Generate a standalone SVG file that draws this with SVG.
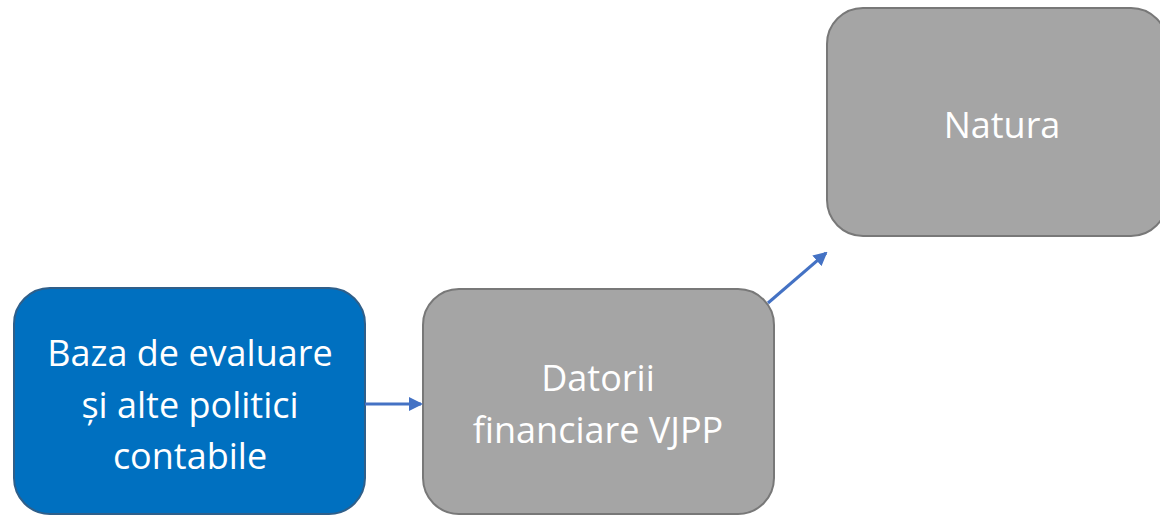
<svg xmlns="http://www.w3.org/2000/svg" width="1160" height="515" viewBox="0 0 1160 515">
<style>
.t{font-family:"Open Sans","Liberation Sans",sans-serif;font-size:36px;fill:#ffffff;text-anchor:middle}
.g{fill:#a5a5a5;stroke:#787878;stroke-width:2}
.b{fill:#0070c0;stroke:#2f5f8a;stroke-width:2}
.c{stroke:#4472c4;stroke-width:3;fill:none}
</style>
<defs>
<marker id="ah2" markerWidth="14" markerHeight="14" refX="12" refY="7" orient="auto" markerUnits="userSpaceOnUse" viewBox="0 0 14 14">
<path d="M0,0 L14,7 L0,14 Z" fill="#4472c4"/>
</marker>
</defs>
<g id="n1">
<rect class="b" x="14" y="288" width="351" height="226" rx="36"/>
<text class="t" x="190" y="366">Baza de evaluare</text>
<text class="t" x="190" y="418">și alte politici</text>
<text class="t" x="190" y="469">contabile</text>
</g>
<g id="n2">
<rect class="g" x="423" y="289" width="351" height="225" rx="36"/>
<text class="t" x="598" y="391">Datorii</text>
<text class="t" x="598" y="443">financiare VJPP</text>
</g>
<g id="n3">
<rect class="g" x="827" y="8" width="340" height="228" rx="36"/>
<text class="t" x="1002" y="138">Natura</text>
</g>
<g id="connectors">
<line class="c" x1="365" y1="404" x2="421" y2="404" marker-end="url(#ah2)"/>
<line class="c" x1="768" y1="303" x2="826" y2="253" marker-end="url(#ah2)"/>
</g>
</svg>
